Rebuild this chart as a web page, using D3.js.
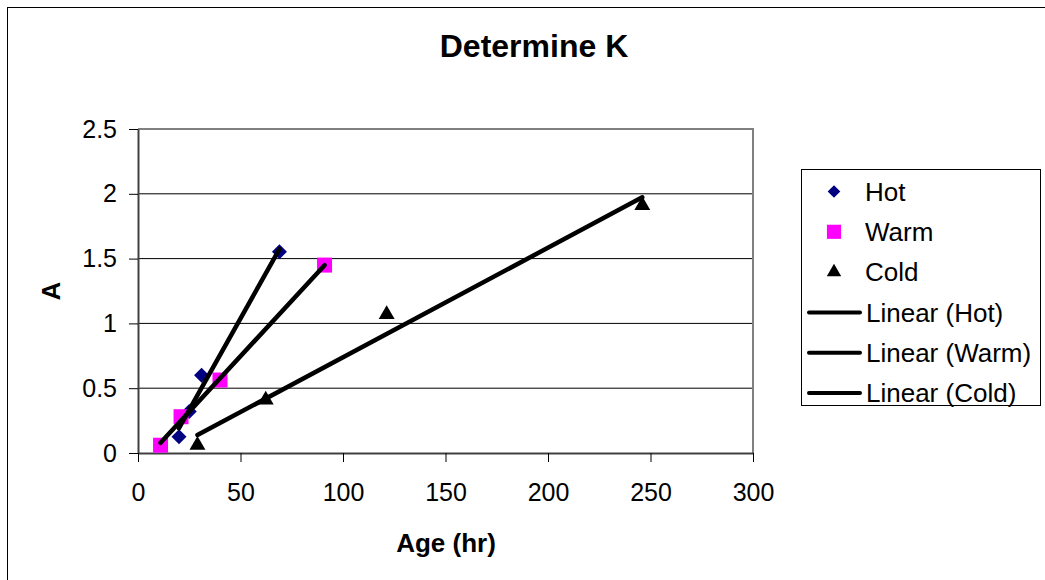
<!DOCTYPE html>
<html>
<head>
<meta charset="utf-8">
<script src="https://cdn.jsdelivr.net/npm/d3@7/dist/d3.min.js"></script>
<style>
  html, body { margin: 0; padding: 0; background: #fff; }
  svg { display: block; font-family: "Liberation Sans", Arial, sans-serif; }
</style>
</head>
<body>
<svg id="chart" width="1045" height="580"></svg>
<script>
// Absorbance readings against age for three curing temperatures
const hotAge   = [20, 25, 31, 69];
const hotA     = [0.126, 0.32, 0.60, 1.553];
const warmAge  = [11, 21, 40, 91];
const warmA    = [0.06, 0.28, 0.563, 1.45];
const coldAge  = [29, 62.3, 121.3, 246];
const coldA    = [0.06, 0.41, 1.07, 1.91];

const xTicks = [0, 50, 100, 150, 200, 250, 300];
const yTicks = [0, 0.5, 1, 1.5, 2, 2.5];
const yTickLabels = ["0", "0.5", "1", "1.5", "2", "2.5"];
const legendLabels = ["Hot", "Warm", "Cold", "Linear (Hot)", "Linear (Warm)", "Linear (Cold)"];

const series = [
  { name: "Hot",  xs: hotAge,  ys: hotA,  shape: "diamond",  color: "#000080" },
  { name: "Warm", xs: warmAge, ys: warmA, shape: "square",   color: "#ff00ff" },
  { name: "Cold", xs: coldAge, ys: coldA, shape: "triangle", color: "#000000" }
];

const svg = d3.select("#chart");
const plot = { left: 138, top: 129, right: 753, bottom: 453 };

const x = d3.scaleLinear().domain([0, 300]).range([plot.left, plot.right]);
const y = d3.scaleLinear().domain([0, 2.5]).range([plot.bottom, plot.top]);

// outer chart frame
svg.append("rect")
  .attr("x", 7.5).attr("y", 7.5)
  .attr("width", 1100).attr("height", 700)
  .attr("fill", "none").attr("stroke", "#000").attr("stroke-width", 1);

// title
svg.append("text")
  .attr("x", 534).attr("y", 57)
  .attr("text-anchor", "middle")
  .attr("font-size", 32).attr("font-weight", "bold")
  .text("Determine K");

// horizontal gridlines
svg.append("g")
  .selectAll("line")
  .data(yTicks.filter(v => v > 0 && v < 2.5))
  .join("line")
  .attr("x1", plot.left).attr("x2", plot.right)
  .attr("y1", d => y(d)).attr("y2", d => y(d))
  .attr("stroke", "#000").attr("stroke-width", 1);

// plot area border (top and right in grey)
svg.append("path")
  .attr("d", `M${plot.left},${plot.top}H${plot.right}V${plot.bottom}`)
  .attr("fill", "none").attr("stroke", "#808080").attr("stroke-width", 2);

// y axis
const yAxis = d3.axisLeft(y)
  .tickValues(yTicks)
  .tickFormat((d, i) => yTickLabels[i])
  .tickSize(9).tickPadding(12).tickSizeOuter(0);
const gy = svg.append("g").attr("transform", `translate(${plot.left},0)`).call(yAxis);
gy.select(".domain").attr("stroke", "#404040").attr("stroke-width", 2);
gy.selectAll(".tick line").attr("stroke", "#000").attr("stroke-width", 1);
gy.selectAll(".tick text").attr("font-size", 25).attr("fill", "#000")
  .attr("font-family", "Liberation Sans, Arial, sans-serif");

// x axis
const xAxis = d3.axisBottom(x)
  .tickValues(xTicks)
  .tickSize(9).tickPadding(21).tickSizeOuter(0);
const gx = svg.append("g").attr("transform", `translate(0,${plot.bottom})`).call(xAxis);
gx.select(".domain").attr("stroke", "#404040").attr("stroke-width", 2);
gx.selectAll(".tick line").attr("stroke", "#000").attr("stroke-width", 1);
gx.selectAll(".tick text").attr("font-size", 25).attr("fill", "#000")
  .attr("font-family", "Liberation Sans, Arial, sans-serif");

// axis titles
svg.append("text")
  .attr("x", 446).attr("y", 552)
  .attr("text-anchor", "middle")
  .attr("font-size", 26).attr("font-weight", "bold")
  .text("Age (hr)");
svg.append("text")
  .attr("transform", "translate(60,291) rotate(-90)")
  .attr("text-anchor", "middle")
  .attr("font-size", 26).attr("font-weight", "bold")
  .text("A");

// marker symbols
const symbolFor = {
  diamond:  d3.symbol().type(d3.symbolSquare).size(112),
  square:   d3.symbol().type(d3.symbolSquare).size(225),
  triangle: d3.symbol().type(d3.symbolTriangle).size(110)
};
function markerTransform(shape, px, py) {
  return shape === "diamond"
    ? `translate(${px},${py}) rotate(45)`
    : `translate(${px},${py})`;
}

// data markers
series.forEach(s => {
  svg.append("g")
    .selectAll("path")
    .data(s.xs.map((v, i) => [v, s.ys[i]]))
    .join("path")
    .attr("d", symbolFor[s.shape])
    .attr("transform", d => markerTransform(s.shape, x(d[0]), y(d[1])))
    .attr("fill", s.color);
});

// least-squares trendlines over each series' age range
function linearFit(xs, ys) {
  const mx = d3.mean(xs), my = d3.mean(ys);
  const sxy = d3.sum(xs, (v, i) => (v - mx) * (ys[i] - my));
  const sxx = d3.sum(xs, v => (v - mx) ** 2);
  const slope = sxy / sxx;
  return { slope, intercept: my - slope * mx };
}
const line = d3.line().x(d => x(d[0])).y(d => y(d[1]));
series.forEach(s => {
  const fit = linearFit(s.xs, s.ys);
  const [x0, x1] = d3.extent(s.xs);
  svg.append("path")
    .attr("d", line([[x0, fit.intercept + fit.slope * x0], [x1, fit.intercept + fit.slope * x1]]))
    .attr("fill", "none").attr("stroke", "#000").attr("stroke-width", 4.5)
    .attr("stroke-linecap", "round");
});

// legend
const legend = svg.append("g");
legend.append("rect")
  .attr("x", 801.5).attr("y", 169.5)
  .attr("width", 239).attr("height", 236)
  .attr("fill", "#fff").attr("stroke", "#000").attr("stroke-width", 1);

const rowY = i => 191.5 + i * 40.3;
legendLabels.forEach((label, i) => {
  const cy = rowY(i);
  if (i < 3) {
    const s = series[i];
    legend.append("path")
      .attr("d", s.shape === "diamond"
        ? d3.symbol().type(d3.symbolSquare).size(80)()
        : s.shape === "square"
          ? d3.symbol().type(d3.symbolSquare).size(200)()
          : d3.symbol().type(d3.symbolTriangle).size(90)())
      .attr("transform", markerTransform(s.shape, 834, cy))
      .attr("fill", s.color);
    legend.append("text")
      .attr("x", 865).attr("y", cy).attr("dy", "0.36em")
      .attr("font-size", 26).text(label);
  } else {
    legend.append("line")
      .attr("x1", 809).attr("x2", 860)
      .attr("y1", cy).attr("y2", cy)
      .attr("stroke", "#000").attr("stroke-width", 4)
      .attr("stroke-linecap", "round");
    legend.append("text")
      .attr("x", 866).attr("y", cy).attr("dy", "0.36em")
      .attr("font-size", 26).text(label);
  }
});
</script>
</body>
</html>
